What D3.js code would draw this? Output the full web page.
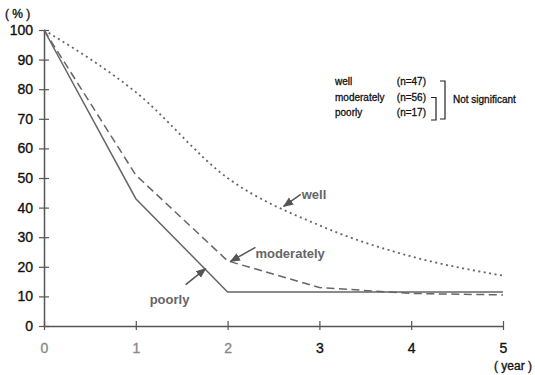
<!DOCTYPE html>
<html>
<head>
<meta charset="utf-8">
<script src="https://cdn.jsdelivr.net/npm/d3@7"></script>
<style>
    body { margin: 0; background: #fff; }
    text { font-family: "Liberation Sans", Arial, sans-serif; }
    .tick-label { font-size: 14px; fill: #111; stroke: #111; stroke-width: 0.35px; }
    .legend-text { font-size: 10px; fill: #111; stroke: #111; stroke-width: 0.3px; }
    .note { font-size: 13px; font-weight: bold; fill: #666; }
</style>
</head>
<body>
<div id="chart"></div>
<script>
const years = [0, 1, 2, 3, 4, 5];
const yTicks = [0, 10, 20, 30, 40, 50, 60, 70, 80, 90, 100];
const seriesNames = ["well", "moderately", "poorly"];
const wellValues = [100, 79, 50, 34, 23.5, 17];
const moderatelyValues = [100, 51, 22, 13, 11, 10.5];
const poorlyValues = [100, 43, 11.5, 11.5, 11.5, 11.5];
const counts = ["(n=47)", "(n=56)", "(n=17)"];
const bracketNote = "Not significant";
// year along each line where the label arrow points
const arrowYears = [2.6, 2.02, 1.75];

const width = 535;
const height = 375;
const margin = {top: 30, left: 44, right: 32, bottom: 49};

const svg = d3.select("#chart")
    .append("svg")
    .attr("width", width)
    .attr("height", height);

const xScale = d3.scaleLinear()
    .domain([0, 5])
    .range([margin.left, width - margin.right]);

const yScale = d3.scaleLinear()
    .domain([0, 100])
    .range([height - margin.bottom, margin.top]);

const axisColor = "#555";

svg.append("defs").append("marker")
    .attr("id", "arrow")
    .attr("viewBox", "0 0 10 10")
    .attr("refX", 9)
    .attr("refY", 5)
    .attr("markerWidth", 7)
    .attr("markerHeight", 7)
    .attr("orient", "auto")
    .append("path")
    .attr("d", "M0,1 L10,5 L0,9 Z")
    .attr("fill", "#555");

// y axis
const yAxis = svg.append("g")
    .attr("transform", `translate(${margin.left},0)`)
    .call(d3.axisLeft(yScale).tickValues(yTicks).tickSize(0).tickPadding(11));
yAxis.select(".domain").attr("stroke", axisColor).attr("stroke-width", 1.5);
yAxis.selectAll(".tick text").attr("class", "tick-label").attr("font-size", null).attr("font-family", null);
yAxis.selectAll(".tick").append("line")
    .attr("x1", -5).attr("x2", 5)
    .attr("stroke", axisColor).attr("stroke-width", 1.2);

// x axis
const xAxis = svg.append("g")
    .attr("transform", `translate(0,${height - margin.bottom})`)
    .call(d3.axisBottom(xScale).tickValues(years).tickFormat(d3.format("d")).tickSize(0).tickPadding(17));
xAxis.select(".domain").attr("stroke", axisColor).attr("stroke-width", 1.5);
xAxis.selectAll(".tick text").attr("class", "tick-label").attr("font-size", null).attr("font-family", null)
    .style("fill", (d) => d < 3 ? "#888" : "#111")
    .style("stroke", (d) => d < 3 ? "#888" : "#111");
xAxis.selectAll(".tick").append("line")
    .attr("y1", -5).attr("y2", 4)
    .attr("stroke", axisColor).attr("stroke-width", 1.2);

svg.append("text")
    .attr("class", "tick-label")
    .attr("x", 5)
    .attr("y", 18)
    .style("font-size", "12px")
    .text("( % )");

svg.append("text")
    .attr("class", "tick-label")
    .attr("x", width - 3)
    .attr("y", 370)
    .attr("text-anchor", "end")
    .style("font-size", "12px")
    .text("( year )");

// lines
const series = [
    {name: "well", values: wellValues, dash: "2,3.5", curve: d3.curveMonotoneX},
    {name: "moderately", values: moderatelyValues, dash: "8,4.5", curve: d3.curveLinear},
    {name: "poorly", values: poorlyValues, dash: null, curve: d3.curveLinear}
];

series.forEach(function(s) {
    const line = d3.line()
        .x((d, i) => xScale(years[i]))
        .y((d) => yScale(d))
        .curve(s.curve);

    svg.append("path")
        .datum(s.values)
        .attr("d", line)
        .attr("fill", "none")
        .attr("stroke", "#666")
        .attr("stroke-width", s.name == "well" ? 1.8 : 1.5)
        .attr("stroke-dasharray", s.dash);
});

// labels with arrows pointing at the lines
const labelOffsets = [
    {dx: 18, dy: -12, tx: 19, ty: -7},
    {dx: 26, dy: -14, tx: 26, ty: -3},
    {dx: -19, dy: 16, tx: -55, ty: 35}
];

series.forEach(function(s, i) {
    const yr = arrowYears[i];
    const k = Math.floor(yr);
    const t = yr - k;
    const v = s.values[k] + (s.values[k + 1] - s.values[k]) * t;
    const px = xScale(yr);
    const py = yScale(v);
    const o = labelOffsets[i];

    svg.append("line")
        .attr("x1", px + o.dx)
        .attr("y1", py + o.dy)
        .attr("x2", px + 1)
        .attr("y2", py)
        .attr("stroke", "#555")
        .attr("stroke-width", 1.5)
        .attr("marker-end", "url(#arrow)");

    svg.append("text")
        .attr("class", "note")
        .attr("x", px + o.tx)
        .attr("y", py + o.ty)
        .text(s.name);
});

// legend
const legendX = 335;
const legendY = 85;
const legendStep = 15.5;

seriesNames.forEach(function(d, i) {
    svg.append("text")
        .attr("class", "legend-text")
        .attr("x", legendX)
        .attr("y", legendY + legendStep * i)
        .text(d);

    svg.append("text")
        .attr("class", "legend-text")
        .attr("x", 426)
        .attr("y", legendY + legendStep * i)
        .attr("text-anchor", "end")
        .text(counts[i]);
});

const bracket = svg.append("g")
    .attr("fill", "none")
    .attr("stroke", "#222")
    .attr("stroke-width", 1.2);

bracket.append("path")
    .attr("d", `M440,${legendY - 4} H445 V${legendY + legendStep * 2 + 3} H440`);

bracket.append("path")
    .attr("d", `M431,${legendY + legendStep - 3} H436 V${legendY + legendStep * 2 + 4} H431`);

svg.append("text")
    .attr("class", "legend-text")
    .attr("x", 453)
    .attr("y", legendY + legendStep + 2)
    .text(bracketNote);
</script>
</body>
</html>
